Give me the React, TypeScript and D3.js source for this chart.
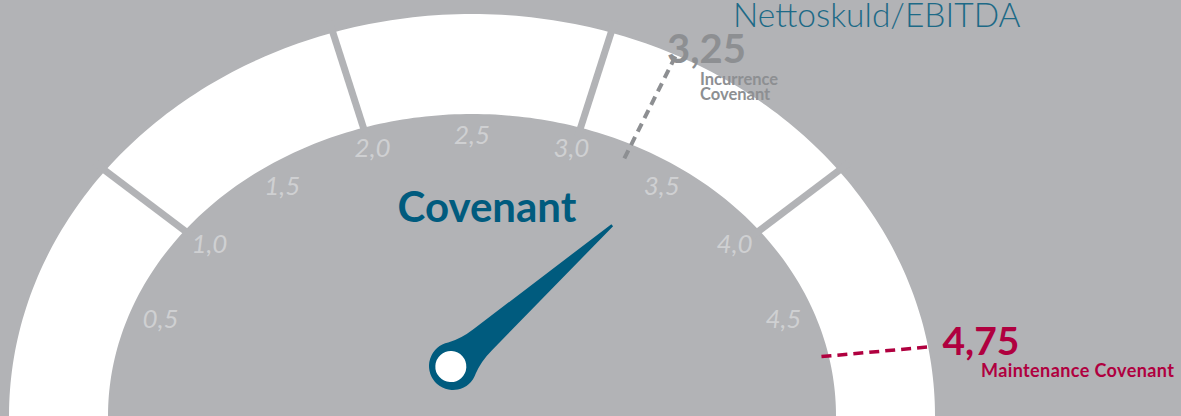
import React, { useEffect } from "react";
import * as d3 from "d3";

// gauge data
const title = "Nettoskuld/EBITDA";
const centerLabel = "Covenant";
const tickValues = [0.5, 1, 1.5, 2, 2.5, 3, 3.5, 4, 4.5];
const tickLabels = ["0,5", "1,0", "1,5", "2,0", "2,5", "3,0", "3,5", "4,0", "4,5"];
const dividerValues = [1, 2, 3, 4];
const covenantNames = [["Incurrence", "Covenant"], ["Maintenance Covenant"]];
const covenantValues = [3.25, 4.75];
const covenantLabels = ["3,25", "4,75"];
const needleValue = 3.4;

const W = 1181;
const H = 416;
const BG = "#b2b3b6";
const TEAL = "#005b7e";
const GREY_TXT = "#8d8f92";
const CRIMSON = "#b0003f";

// ellipse geometry (gauge is a bit wider than tall)
const cx = 472;
const cy = 416;
const outer = { a: 463, b: 402 };
const inner = { a: 364, b: 302 };
const labelEl = { a: 332, b: 282 };
const hub = { x: 453, y: 366 };

const angle = d3.scaleLinear().domain([0, 5]).range([Math.PI - 0.05, 0.05]);

const pt = (t: number, e: { a: number; b: number }, k = 1): [number, number] => [
  cx + k * e.a * Math.cos(t),
  cy - k * e.b * Math.sin(t),
];

const App = () => {
  useEffect(() => {
    document.body.style.margin = "0";
  }, []);

  const line = d3.line();
  const steps = d3.range(0, 201).map((i) => Math.PI + 0.03 - (i / 200) * (Math.PI + 0.06));
  const bandPts = [...steps.map((t) => pt(t, outer)), ...steps.slice().reverse().map((t) => pt(t, inner))];
  const band = line(bandPts) + "Z";

  // needle
  const ta = angle(needleValue);
  const tip = pt(ta, inner, 0.74);
  const L = Math.hypot(tip[0] - hub.x, tip[1] - hub.y);
  const rot = (Math.atan2(tip[1] - hub.y, tip[0] - hub.x) * 180) / Math.PI;
  const R = 24;
  const c60 = R * Math.cos(Math.PI / 3);
  const s60 = R * Math.sin(Math.PI / 3);
  const needle = `M${c60},${-s60} Q24,-15 40,-14 L${L},-1.3 L${L},1.3 L40,14 Q24,15 ${c60},${s60} A${R},${R} 0 1 1 ${c60},${-s60} Z`;

  // covenant leader lines
  const inc = angle(covenantValues[0]);
  const incA = pt(inc, inner, 0.95);
  const incB = pt(inc, outer, 1.0);
  const mai = angle(covenantValues[1]);
  const maiA = pt(mai, inner, 0.98);
  const maiB: [number, number] = [maiA[0] + 111, maiA[1] - 10];

  return (
    <svg width={W} height={H} style={{ display: "block", fontFamily: "Lato, 'Open Sans', sans-serif" }}>
      <rect width={W} height={H} fill={BG} />
      <path d={band} fill="#ffffff" />
      {dividerValues.map((v) => {
        const t = angle(v);
        const [x1, y1] = pt(t, inner, 0.97);
        const [x2, y2] = pt(t, outer, 1.03);
        return <line key={v} x1={x1} y1={y1} x2={x2} y2={y2} stroke={BG} strokeWidth={7} />;
      })}
      {tickValues.map((v, i) => {
        const [x, y] = pt(angle(v), labelEl);
        return (
          <text key={v} x={x} y={y} textAnchor="middle" dominantBaseline="central" fontSize={26}
            fontStyle="italic" fill="#cfd0d2">
            {tickLabels[i]}
          </text>
        );
      })}

      <line x1={incA[0]} y1={incA[1]} x2={incB[0]} y2={incB[1]} stroke={GREY_TXT} strokeWidth={4} strokeDasharray="9 6" />
      <text x={incB[0] - 9} y={incB[1] + 8} fontSize={40} fontWeight={700} fill={GREY_TXT}>{covenantLabels[0]}</text>
      {covenantNames[0].map((s, i) => (
        <text key={s} x={incB[0] + 24} y={incB[1] + 30 + i * 15} fontSize={16.5} fontWeight={700} fill={GREY_TXT}>{s}</text>
      ))}

      <line x1={maiA[0]} y1={maiA[1]} x2={maiB[0]} y2={maiB[1]} stroke={CRIMSON} strokeWidth={3.5} strokeDasharray="10 6" />
      <text x={maiA[0] + 121} y={maiA[1] - 2} fontSize={39} fontWeight={700} fill={CRIMSON}>{covenantLabels[1]}</text>
      <text x={maiA[0] + 159.5} y={maiA[1] + 20} fontSize={18} letterSpacing={0.4} fontWeight={700} fill={CRIMSON}>
        {covenantNames[1][0]}
      </text>

      <text x={733} y={27} fontSize={33.5} fontWeight={300} fill="#1d6a87">{title}</text>
      <text x={487} y={222} textAnchor="middle" fontSize={42} fontWeight={700} fill={TEAL}>{centerLabel}</text>

      <g transform={`translate(${hub.x},${hub.y}) rotate(${rot})`}>
        <path d={needle} fill={TEAL} />
        <circle cx={-2} cy={-1} r={15.5} fill="#ffffff" />
      </g>
    </svg>
  );
};

export default App;
